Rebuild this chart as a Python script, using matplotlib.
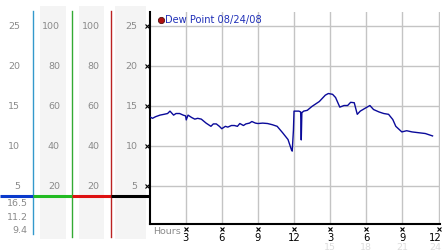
import matplotlib
matplotlib.use("Agg")
import matplotlib.pyplot as plt
from matplotlib.transforms import blended_transform_factory as btf
from matplotlib.patches import Rectangle
from matplotlib.lines import Line2D

# ---------------- data ----------------
hours = [0.0, 0.25, 0.5, 0.87, 1.2, 1.5, 1.7, 2.0, 2.2, 2.5, 2.8, 3.0, 3.05, 3.2, 3.5,
         3.76, 4.0, 4.3, 4.7, 5.1, 5.3, 5.55, 5.8, 6.0, 6.3, 6.5, 6.8, 7.05, 7.3, 7.5,
         7.8, 8.0, 8.3, 8.5, 8.8, 9.0, 9.4, 9.8, 10.2, 10.6, 11.05, 11.5, 11.8, 11.85,
         11.95, 12.0, 12.4, 12.55, 12.6, 12.65, 12.8, 13.1, 13.5, 14.1, 14.6, 14.85,
         15.2, 15.45, 15.8, 16.15, 16.45, 16.7, 17.0, 17.25, 17.5, 17.95, 18.3, 18.6,
         19.05, 19.45, 19.85, 20.2, 20.45, 20.95, 21.35, 21.8, 22.35, 22.9, 23.5]
dew_point = [13.6, 13.4, 13.6, 13.8, 13.9, 14.0, 14.3, 13.8, 14.0, 14.0, 13.8, 13.7, 13.2, 13.8, 13.5,
             13.3, 13.4, 13.3, 12.8, 12.4, 12.7, 12.7, 12.4, 12.1, 12.4, 12.3, 12.5, 12.5, 12.4, 12.75,
             12.5, 12.7, 12.8, 13.0, 12.8, 12.75, 12.8, 12.75, 12.6, 12.4, 11.6, 10.75, 9.4, 9.3,
             11.9, 14.3, 14.3, 14.2, 10.7, 14.1, 14.3, 14.4, 14.9, 15.5, 16.3, 16.5,
             16.4, 16.0, 14.8, 15.0, 15.0, 15.4, 15.35, 13.9, 14.3, 14.7, 15.0, 14.5,
             14.2, 14.0, 13.9, 13.25, 12.4, 11.7, 11.85, 11.7, 11.6, 11.5, 11.2]
series_label = "Dew Point 08/24/08"

y_ticks = [25, 20, 15, 10, 5]
pct_ticks = [100, 80, 60, 40, 20]
x_ticks = [3, 6, 9, 12, 15, 18, 21, 24]
x_tick_labels = ["3", "6", "9", "12", "3", "6", "9", "12"]
x_tick_labels_24 = ["15", "18", "21", "24"]
stats = ["16.5", "11.2", "9.4"]

# ---------------- layout (pixels) ----------------
W, H = 442, 253
fig = plt.figure(figsize=(W / 100, H / 100), dpi=100)
fig.patch.set_facecolor("white")

def fx(px):
    return px / W

def fy(py):
    return 1 - py / H

ax_left, ax_right, ax_top, ax_bot = 149.5, 440.0, 13.0, 225.0
ylo, yhi = 0.19, 26.69
ax = fig.add_axes([fx(ax_left), fy(ax_bot), fx(ax_right - ax_left), (ax_bot - ax_top) / H])
ax.set_xlim(0, 24.12)
ax.set_ylim(ylo, yhi)
ax.set_facecolor("white")
for s in ["top", "right"]:
    ax.spines[s].set_visible(False)
for s in ["left", "bottom"]:
    ax.spines[s].set_color("black")
    ax.spines[s].set_linewidth(1.5)
ax.set_xticks(x_ticks)
ax.set_yticks(y_ticks)
ax.tick_params(length=0, labelleft=False, labelbottom=False)
ax.grid(True, color="#c4c4c4", lw=1.0)
ax.set_axisbelow(True)

ax.plot(hours, dew_point, color="#0a0a9a", lw=1.0, zorder=3)

gray = "#8a8a8a"
fs = 6.8

# left axis small x marks
tr_y = btf(fig.transFigure, ax.transData)
ax.plot([fx(147)] * len(y_ticks), y_ticks, ls="none", marker="x", ms=2.5, mew=0.8,
        color="black", transform=tr_y, clip_on=False)

# bottom ticks
tr_x = btf(ax.transData, fig.transFigure)
ax.plot(x_ticks, [fy(230)] * len(x_ticks), ls="none", marker="x", ms=2.5, mew=0.8,
        color="black", transform=tr_x, clip_on=False)
n = len(x_ticks)
for i, (xv, lab) in enumerate(zip(x_ticks, x_tick_labels)):
    if i == n - 1:
        fig.text(fx(441.5), fy(238), lab, ha="right", va="center",
                 fontsize=fs + 0.4, color="black")
    else:
        ax.text(xv, fy(238), lab, transform=tr_x, ha="center", va="center",
                fontsize=fs + 0.4, color="black", clip_on=False)
m = len(x_tick_labels_24)
for i, (xv, lab) in enumerate(zip(x_ticks[4:], x_tick_labels_24)):
    if i == m - 1:
        fig.text(fx(441.5), fy(248), lab, ha="right", va="center",
                 fontsize=fs, color="#dcdcdc")
    else:
        ax.text(xv, fy(248), lab, transform=tr_x, ha="center", va="center",
                fontsize=fs, color="#dcdcdc", clip_on=False)
fig.text(fx(153), fy(232), "Hours", ha="left", va="center", fontsize=fs, color=gray)

# legend
fig.add_artist(Line2D([fx(160.7)], [fy(20.7)], ls="none", marker="o", ms=4.5,
                      mfc="#b01010", mec="#501010", mew=0.6))
fig.text(fx(165), fy(20.5), series_label, ha="left", va="center", fontsize=fs + 0.3,
         color="#2030b8")

# ---------------- left panels ----------------
for x0, x1 in [(40, 65.7), (79, 104), (115, 146)]:
    fig.add_artist(Rectangle((fx(x0), fy(240)), fx(x1 - x0), (240 - 7) / H,
                             facecolor="#f4f4f4", edgecolor="none", zorder=0))

fig.add_artist(Line2D([fx(33.3)] * 2, [fy(12), fy(235)], color="#3399cc", lw=1.0))
fig.add_artist(Line2D([fx(72.3)] * 2, [fy(12), fy(238)], color="#33aa33", lw=1.0))
fig.add_artist(Line2D([fx(111.3)] * 2, [fy(12), fy(238)], color="#bb2222", lw=1.0))

yl = fy(196.8)
for x0, x1, c in [(0, 33.3, "#0a3acc"), (33.3, 72.3, "#22bb22"),
                  (72.3, 111.3, "#dd1111"), (111.3, 149.5, "black")]:
    fig.add_artist(Line2D([fx(x0), fx(x1)], [yl, yl], color=c, lw=2.2, solid_capstyle="butt"))

# column labels on the same scale as the main axis
for xr, vals, scale in [(20, y_ticks, 1), (60, pct_ticks, 4), (99.5, pct_ticks, 4),
                        (137.5, y_ticks, 1)]:
    for v in vals:
        ax.text(fx(xr), v / scale, str(v), transform=tr_y, ha="right", va="center",
                fontsize=fs, color=gray, clip_on=False)

for py, lab in zip([204, 218, 231], stats):
    fig.text(fx(27.5), fy(py), lab, ha="right", va="center", fontsize=fs, color=gray)

fig.savefig("out.png", dpi=100, facecolor="white")
